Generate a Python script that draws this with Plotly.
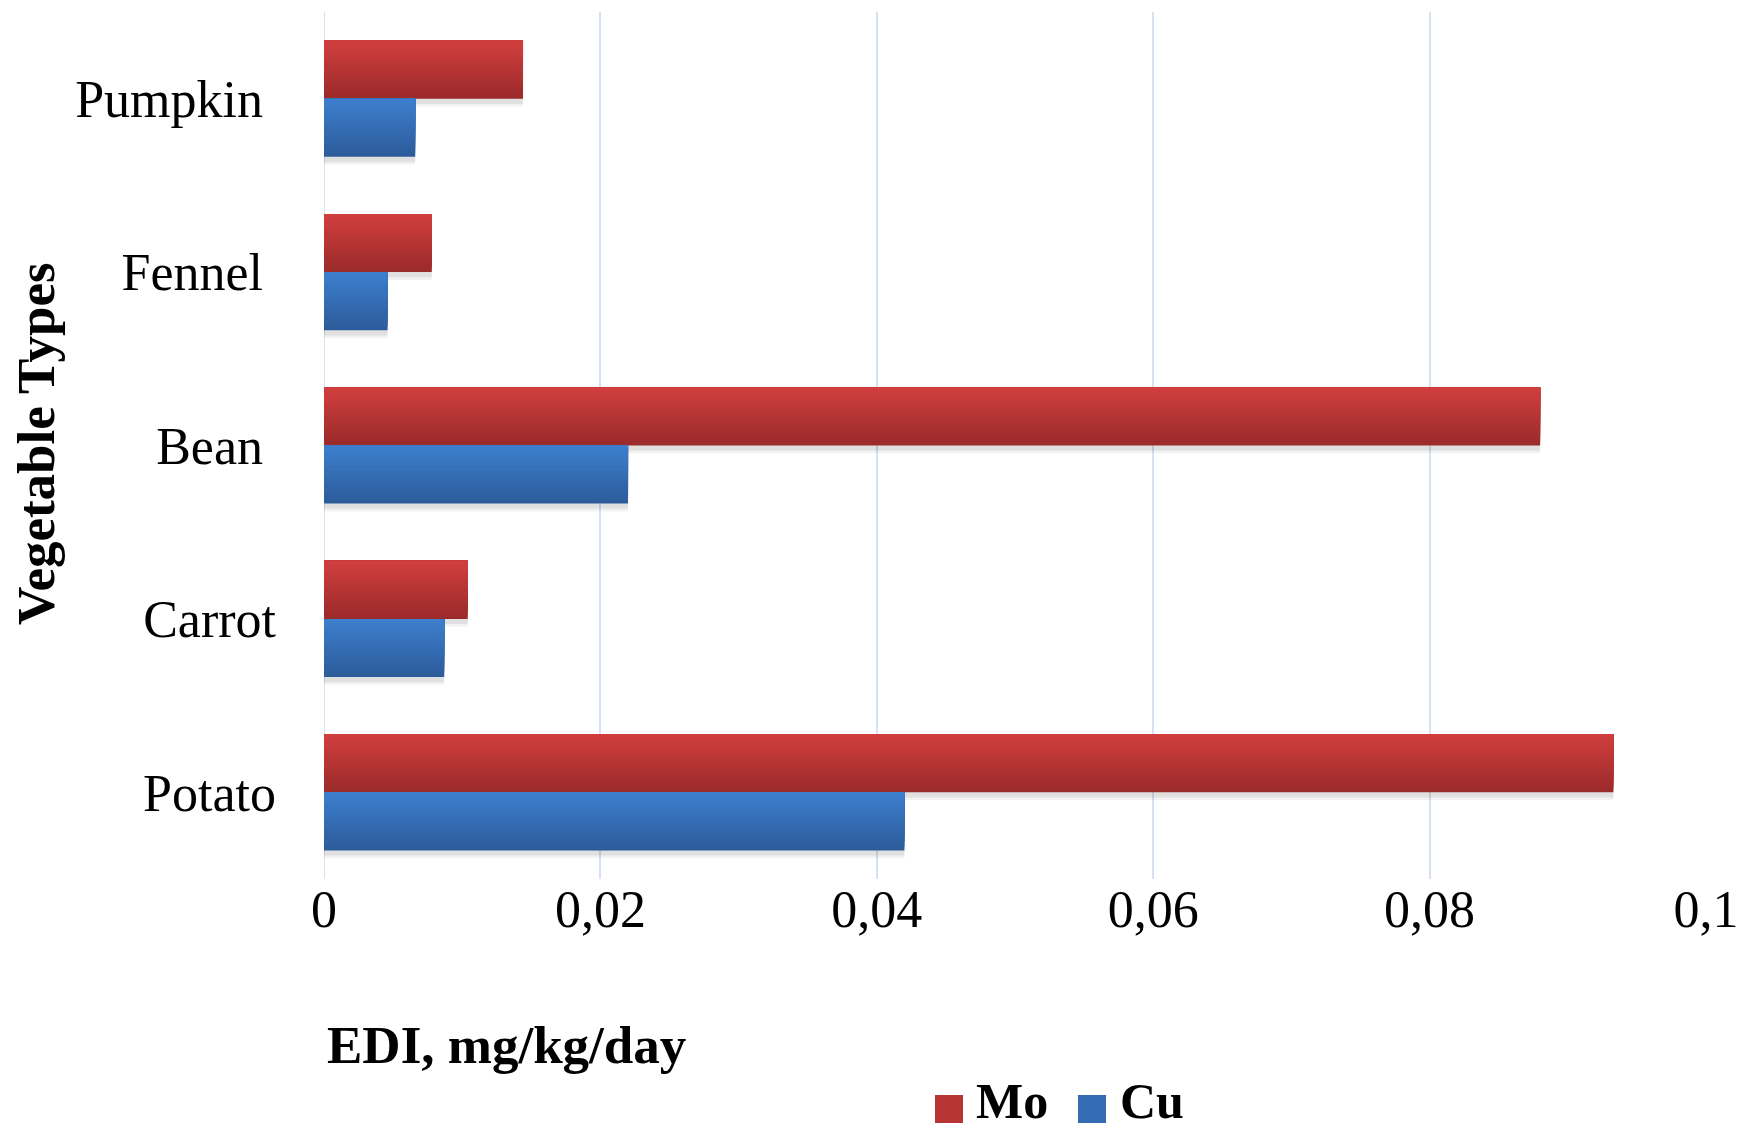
import plotly.graph_objects as go

# Data: estimated daily intake per vegetable
categories = ["Potato", "Carrot", "Bean", "Fennel", "Pumpkin"]
category_labels = ["Potato", "Carrot", "Bean\u00a0", "Fennel\u00a0", "Pumpkin\u00a0"]
mo_values = [0.0933, 0.0104, 0.0880, 0.0078, 0.0144]
cu_values = [0.0420, 0.0087, 0.0220, 0.0046, 0.0066]
x_tick_vals = [0, 0.02, 0.04, 0.06, 0.08, 0.1]
x_tick_labels = ["0", "0,02", "0,04", "0,06", "0,08", "0,1"]

W, H = 1740, 1131
ML, MR, MT, MB = 324, 34, 12, 252
PW, PH = W - ML - MR, H - MT - MB

FONT = "Liberation Serif, Times New Roman, serif"

# bar thickness in category units
BAR_H = 0.335
N_STRIPS = 14


def lerp(c1, c2, t):
    return "rgb(%d,%d,%d)" % tuple(round(a + (b - a) * t) for a, b in zip(c1, c2))


def px_x(px):
    return (px - ML) / PW


def px_y(py):
    return 1 - (py - MT) / PH


series = [
    ("Mo", mo_values, (207, 62, 61), (156, 43, 43), 0.0),
    ("Cu", cu_values, (60, 126, 204), (45, 92, 155), -BAR_H),
]

fig = go.Figure()

# soft drop shadows under the bars
for name, vals, top, bot, base_off in series:
    for shift, alpha in [(0.045, 0.05), (0.03, 0.07)]:
        fig.add_trace(go.Bar(
            y=categories, x=vals, orientation="h",
            offset=base_off - shift, width=BAR_H,
            marker=dict(color="rgba(0,0,0,%.2f)" % alpha, line=dict(width=0)),
            showlegend=False, hoverinfo="skip",
        ))

# vertical gradient: darkest layer covers the whole bar, lighter layers
# are stacked on top, each reaching to the bar's upper edge
for name, vals, top, bot, base_off in series:
    w = BAR_H / N_STRIPS
    for k in reversed(range(N_STRIPS)):
        t = k / (N_STRIPS - 1)
        span = (k + 1) * w
        fig.add_trace(go.Bar(
            y=categories, x=vals, orientation="h",
            offset=base_off + BAR_H - span, width=span,
            marker=dict(color=lerp(top, bot, t), line=dict(width=0)),
            name=name, showlegend=False,
        ))

fig.update_layout(
    width=W, height=H,
    margin=dict(l=ML, r=MR, t=MT, b=MB, pad=0, autoexpand=False),
    paper_bgcolor="white", plot_bgcolor="white",
    barmode="overlay",
    showlegend=False,
    font=dict(family=FONT, size=52, color="black"),
    xaxis=dict(
        range=[0, 0.1], tickvals=x_tick_vals, ticktext=x_tick_labels,
        showgrid=True, gridcolor="#D6E2F1", gridwidth=2,
        zeroline=False, showline=False, ticks="",
        ticklabelstandoff=-5, automargin=False,
        tickfont=dict(family=FONT, size=52, color="black"),
        fixedrange=True,
    ),
    yaxis=dict(
        type="category", categoryorder="array", categoryarray=categories,
        range=[-0.5, 4.5], tickvals=categories, ticktext=category_labels,
        showgrid=False, zeroline=False, showline=False, ticks="",
        ticklabelstandoff=47, automargin=False,
        tickfont=dict(family=FONT, size=52, color="black"),
        fixedrange=True,
    ),
)

# left edge line at zero
fig.add_shape(type="line", xref="x", yref="paper", x0=0, x1=0, y0=0, y1=1,
              line=dict(color="#D6E2F1", width=2), layer="below")

# axis titles
fig.add_annotation(text="<b>EDI, mg/kg/day</b>", xref="paper", yref="paper",
                   x=px_x(325), y=px_y(1045), xanchor="left", yanchor="middle",
                   showarrow=False, font=dict(family=FONT, size=53, color="black"))
fig.add_annotation(text="<b>Vegetable Types</b>", xref="paper", yref="paper",
                   x=px_x(36), y=px_y(444), xanchor="center", yanchor="middle",
                   textangle=-90, showarrow=False,
                   font=dict(family=FONT, size=53, color="black"))

# legend
legend_items = [("Mo", (183, 53, 52), 935, 976), ("Cu", (52, 108, 180), 1078, 1120)]
for label, col, sx, tx in legend_items:
    fig.add_shape(type="rect", xref="paper", yref="paper",
                  x0=px_x(sx), x1=px_x(sx + 28), y0=px_y(1123), y1=px_y(1095),
                  fillcolor="rgb(%d,%d,%d)" % col, line=dict(width=0))
    fig.add_annotation(text="<b>%s</b>" % label, xref="paper", yref="paper",
                       x=px_x(tx - 2), y=px_y(1131), xanchor="left", yanchor="bottom",
                       showarrow=False, font=dict(family=FONT, size=50, color="black"))

fig.write_html("out.html")
